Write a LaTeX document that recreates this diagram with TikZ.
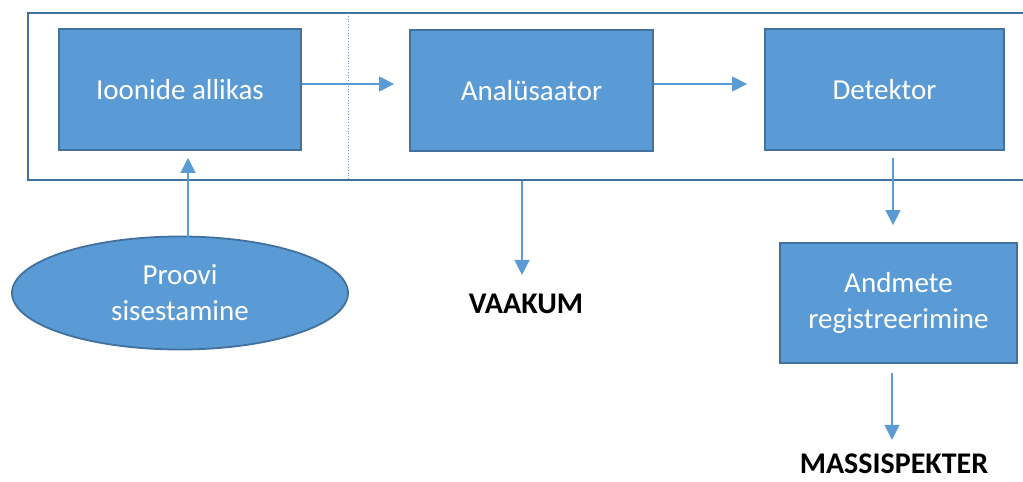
\documentclass[tikz,border=0pt]{standalone}
\usepackage{fontspec}
\setmainfont{Carlito}
\usetikzlibrary{arrows.meta,shapes.geometric,calc}
\definecolor{boxfill}{HTML}{5B9BD5}
\definecolor{boxline}{HTML}{41719C}
\definecolor{arrcol}{HTML}{5B9BD5}
\tikzset{
  blk/.style={draw=boxline, line width=1.8pt, fill=boxfill, text=white, align=center,
    font=\fontsize{29}{36}\selectfont, inner sep=0pt},
  arr/.style={draw=arrcol, line width=1.3pt, -{Triangle[length=15pt,width=15pt]}},
  lbl/.style={font=\fontsize{30}{34}\selectfont\bfseries, text=black, inner sep=0pt},
}
\begin{document}
\begin{tikzpicture}[x=1pt,y=-1pt]
\useasboundingbox (0,0) rectangle (1023,482);
\begin{scope}
\clip (0,0) rectangle (1023,482);
% outer frame
\node (vac) [draw=boxline, line width=1.8pt, minimum width=1032pt, minimum height=167pt, inner sep=0pt] at (544,96.5) {};
\end{scope}
\draw[draw=arrcol, line width=0.8pt, dotted] (348,13) -- (348,180);
% boxes
\node (b1) [blk, minimum width=242pt, minimum height=121pt] at (180,89.5) {Ioonide allikas};
\node (b2) [blk, minimum width=243pt, minimum height=121pt] at (531.5,90.5) {Analüsaator};
\node (b3) [blk, minimum width=239pt, minimum height=121pt] at (884.5,89.5) {Detektor};
\node (b4) [blk, minimum width=237pt, minimum height=120pt] at (898.5,303) {Andmete\\registreerimine};
\node (e) [blk, ellipse, minimum width=336pt, minimum height=113pt] at (180,293) {Proovi\\sisestamine};
% labels
\node (vk) [lbl] at (526,304) {VAAKUM};
\node (ms) [lbl] at (894,464) {MASSISPEKTER};
% connectors
\draw[arr, shorten >=15pt] ([yshift=5.5pt]b1.east) -- ([yshift=5.5pt]b1.east -| b2.west);
\draw[arr, shorten >=17pt] ([yshift=6.5pt]b2.east) -- ([yshift=6.5pt]b2.east -| b3.west);
\draw[arr, shorten >=7pt] ([xshift=8pt,yshift=-2pt]e.north) -- ([xshift=8pt]b1.south);
\draw[arr, shorten >=19pt] (vac.south -| 522,0) -- (vk.north -| 522,0);
\draw[arr, shorten <=7pt, shorten >=17pt] ([xshift=8.5pt]b3.south) -- ([xshift=8.5pt]b3.south |- b4.north);
\draw[arr, shorten <=9pt, shorten >=14pt] (b4.south -| 892,0) -- (ms.north -| 892,0);
\end{tikzpicture}
\end{document}
